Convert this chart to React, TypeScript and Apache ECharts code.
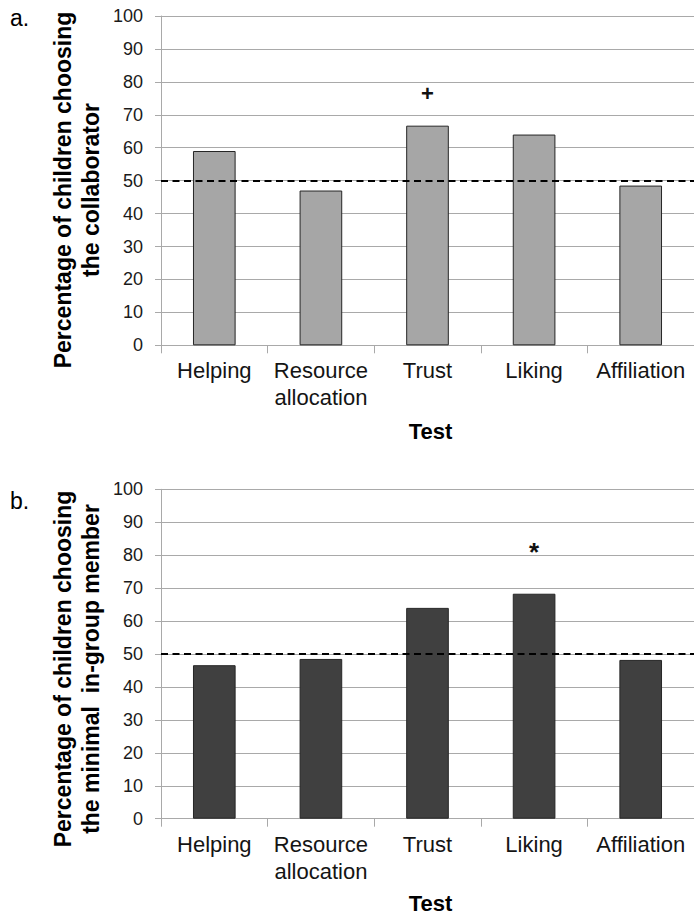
import React, { useEffect, useRef } from "react";
import * as echarts from "echarts";

const categories = ["Helping", "Resource\nallocation", "Trust", "Liking", "Affiliation"];
const collaboratorPct = [59, 47, 66.7, 64, 48.5];
const ingroupPct = [46.6, 48.5, 64, 68.3, 48.2];
const chanceLevel = 50;
const markersA = ["", "", "+", "", ""];
const markersB = ["", "", "", "*", ""];
const yMin = 0;
const yMax = 100;
const yStep = 10;
const panelLabels = ["a.", "b."];
const yTitles = [
  "Percentage of children choosing\nthe collaborator",
  "Percentage of children choosing\nthe minimal  in-group member",
];
const xTitle = "Test";

const FONT = "'Liberation Sans', Arial, Helvetica, sans-serif";
const GRID_COLOR = "#a9a9a9";

export default function App() {
  const ref = useRef<HTMLDivElement>(null);

  useEffect(() => {
    if (!ref.current) return;
    const chart = echarts.init(ref.current, undefined, { renderer: "svg" });

    const grids = [
      { left: 161, top: 16, width: 539, height: 329.3 },
      { left: 161, top: 489.3, width: 539, height: 329.4 },
    ];

    const mkX = (i: number) => ({
      type: "category",
      gridIndex: i,
      data: categories,
      axisLine: { show: true, lineStyle: { color: GRID_COLOR, width: 1 } },
      axisTick: { show: true, length: 8, alignWithLabel: false, lineStyle: { color: GRID_COLOR } },
      axisLabel: {
        interval: 0,
        margin: 12,
        fontFamily: FONT,
        fontSize: 22,
        lineHeight: 27,
        color: "#141414",
      },
    });

    const mkY = (i: number) => ({
      type: "value",
      gridIndex: i,
      min: yMin,
      max: yMax,
      interval: yStep,
      axisLine: { show: true, lineStyle: { color: GRID_COLOR, width: 1 } },
      axisTick: { show: true, length: 6, inside: false, lineStyle: { color: GRID_COLOR } },
      axisLabel: { margin: 18, fontFamily: FONT, fontSize: 18, color: "#1a1a1a" },
      splitLine: { show: true, lineStyle: { color: GRID_COLOR, width: 1 } },
    });

    const mkBar = (
      i: number,
      data: number[],
      markers: string[],
      fill: string,
      distance: number,
      markSize: number,
      markWeight: string
    ) => ({
      type: "bar",
      xAxisIndex: i,
      yAxisIndex: i,
      data,
      barWidth: "40%",
      itemStyle: { color: fill, borderColor: "#262626", borderWidth: 1 },
      label: {
        show: true,
        position: "top",
        distance,
        formatter: (p: any) => markers[p.dataIndex],
        fontFamily: FONT,
        fontSize: markSize,
        fontWeight: markWeight,
        color: "#111",
      },
      markLine: {
        silent: true,
        symbol: "none",
        label: { show: false },
        lineStyle: { color: "#000", type: [7, 4.5], width: 2 },
        data: [{ yAxis: chanceLevel }],
      },
    });

    const titleText = (text: string, x: number, y: number, size: number, bold: boolean, rotate = 0) => ({
      type: "text",
      x,
      y,
      rotation: rotate,
      style: {
        text,
        x: 0,
        y: 0,
        align: "center",
        verticalAlign: "middle",
        fontFamily: FONT,
        fontSize: size,
        fontWeight: bold ? "bold" : "normal",
        lineHeight: 28,
        fill: "#000",
      },
    });

    chart.setOption({
      animation: false,
      backgroundColor: "#fff",
      grid: grids,
      xAxis: [mkX(0), mkX(1)],
      yAxis: [mkY(0), mkY(1)],
      series: [
        mkBar(0, collaboratorPct, markersA, "#a6a6a6", 21, 22, "bold"),
        mkBar(1, ingroupPct, markersB, "#404040", 29, 26, "bold"),
      ],
      graphic: [
        {
          type: "text",
          x: 10,
          y: 17.5,
          style: { text: panelLabels[0], fontFamily: FONT, fontSize: 23, verticalAlign: "middle", fill: "#000" },
        },
        {
          type: "text",
          x: 10,
          y: 500.5,
          style: { text: panelLabels[1], fontFamily: FONT, fontSize: 23, verticalAlign: "middle", fill: "#000" },
        },
        titleText(yTitles[0], 77, 190, 23, true, Math.PI / 2),
        titleText(yTitles[1], 77, 669, 23, true, Math.PI / 2),
        titleText(xTitle, 430.5, 431, 22, true),
        titleText(xTitle, 430.5, 903.5, 22, true),
      ],
    });

    return () => chart.dispose();
  }, []);

  return (
    <div
      ref={ref}
      style={{
        position: "absolute",
        left: 0,
        top: 0,
        width: 694,
        height: 915,
        overflow: "hidden",
        background: "#fff",
      }}
    />
  );
}
